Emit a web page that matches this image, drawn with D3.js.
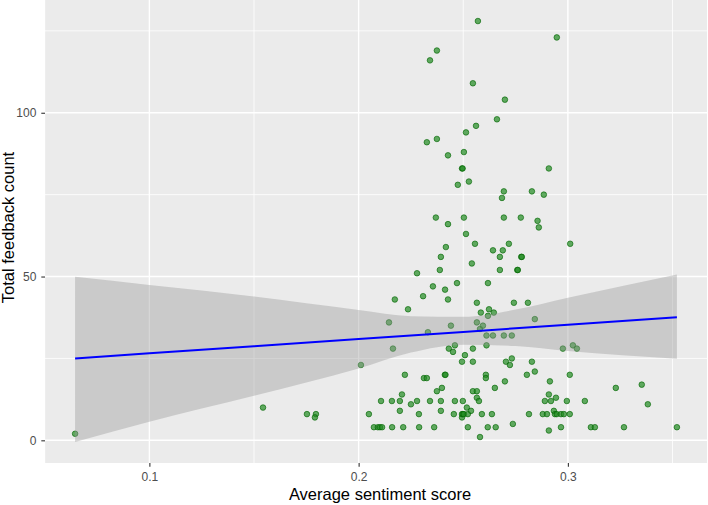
<!DOCTYPE html>
<html>
<head>
    <meta charset="utf-8">
    <script src="https://cdn.jsdelivr.net/npm/d3@7"></script>
    <style>
        body { margin: 0; background: #ffffff; }
        svg text { font-family: 'Liberation Sans', Arial, sans-serif; }
    </style>
</head>
<body>
<svg id="chart" width="708" height="505"></svg>
<script>
    // points: average sentiment score vs total feedback count
    var sentiment = [
        0.0645, 0.1543, 0.1753, 0.1796, 0.1791, 0.2011, 0.2049, 0.2073, 0.2092, 0.2102,
        0.2112, 0.2107, 0.2145, 0.2159, 0.2164, 0.2173, 0.2197, 0.2197, 0.2207, 0.2221,
        0.2160, 0.2213, 0.2236, 0.2250, 0.2279, 0.2279, 0.2288, 0.2289, 0.2308, 0.2312,
        0.2326, 0.2326, 0.2331, 0.2341, 0.2341, 0.2355, 0.2361, 0.2369, 0.2374, 0.2374,
        0.2374, 0.2388, 0.2393, 0.2393, 0.2393, 0.2398, 0.2412, 0.2415, 0.2413, 0.2417,
        0.2427, 0.2427, 0.2427, 0.2431, 0.2441, 0.2451, 0.2455, 0.2460, 0.2460, 0.2470,
        0.2474, 0.2494, 0.2497, 0.2494, 0.2494, 0.2494, 0.2498, 0.2498, 0.2503, 0.2503,
        0.2503, 0.2508, 0.2513, 0.2513, 0.2517, 0.2522, 0.2522, 0.2527, 0.2537, 0.2541,
        0.2546, 0.2546, 0.2546, 0.2546, 0.2556, 0.2561, 0.2565, 0.2565, 0.2565, 0.2565,
        0.2570, 0.2575, 0.2580, 0.2580, 0.2584, 0.2589, 0.2594, 0.2608, 0.2608, 0.2611,
        0.2611, 0.2618, 0.2618, 0.2617, 0.2623, 0.2637, 0.2642, 0.2642, 0.2646, 0.2651,
        0.2655, 0.2661, 0.2675, 0.2675, 0.2685, 0.2689, 0.2694, 0.2694, 0.2694, 0.2699,
        0.2699, 0.2704, 0.2718, 0.2723, 0.2732, 0.2732, 0.2737, 0.2742, 0.2758, 0.2761,
        0.2775, 0.2777, 0.2780, 0.2804, 0.2809, 0.2814, 0.2828, 0.2828, 0.2842, 0.2842,
        0.2855, 0.2861, 0.2880, 0.2885, 0.2890, 0.2900, 0.2909, 0.2909, 0.2909, 0.2914,
        0.2919, 0.2933, 0.2938, 0.2943, 0.2947, 0.2947, 0.2967, 0.2967, 0.2976, 0.2981,
        0.2995, 0.3009, 0.3009, 0.3011, 0.3024, 0.3043, 0.3081, 0.3110, 0.3129, 0.3229,
        0.3268, 0.3353, 0.3382, 0.3521
    ];
    var feedback = [
        2, 10, 8, 8, 7, 23, 8, 4, 4, 4,
        4, 12, 36, 12, 28, 43, 12, 9, 14, 20,
        4, 4, 40, 11, 51, 12, 8, 4, 44, 19,
        19, 91, 33, 116, 12, 47, 4, 68, 119, 92,
        15, 52, 56, 12, 9, 16, 20, 20, 46, 59,
        87, 66, 43, 28, 35, 27, 8, 29, 12, 48,
        78, 83, 83, 24, 7, 8, 8, 12, 88, 68,
        8, 26, 94, 63, 10, 8, 4, 79, 9, 54,
        109, 28, 24, 15, 60, 96, 42, 36, 15, 13,
        128, 12, 34, 1, 39, 8, 35, 20, 19, 32,
        29, 48, 38, 4, 40, 8, 58, 32, 39, 16,
        4, 98, 56, 52, 74, 58, 76, 68, 32, 104,
        18, 24, 60, 23, 32, 25, 5, 42, 52, 52,
        68, 56, 56, 20, 42, 8, 76, 24, 37, 21,
        67, 65, 8, 75, 12, 8, 83, 14, 3, 18,
        12, 9, 8, 13, 123, 8, 8, 4, 28, 8,
        12, 20, 8, 60, 29, 28, 12, 4, 4, 16,
        4, 17, 11, 4
    ];

    // linear smooth and its confidence band
    var smoothX   = [0.0645, 0.1, 0.15, 0.2, 0.225, 0.25, 0.275, 0.3, 0.3521];
    var smoothFit = [25.0, 26.6, 28.7, 30.9, 32.0, 33.1, 34.2, 35.3, 37.6];
    var smoothLo  = [-0.5, 5.7, 13.6, 21.9, 26.8, 29.2, 28.8, 27.3, 24.9];
    var smoothHi  = [49.9, 47.4, 43.9, 39.8, 37.9, 37.7, 39.9, 43.5, 50.6];

    var xTicks = [0.1, 0.2, 0.3];
    var xMinor = [0.05, 0.15, 0.25, 0.35];
    var yTicks = [0, 50, 100];
    var yMinor = [25, 75, 125];

    var points = sentiment.map(function (d, i) { return { x: d, y: feedback[i] }; });
    var band = smoothX.map(function (d, i) {
        return { x: d, fit: smoothFit[i], lo: smoothLo[i], hi: smoothHi[i] };
    });

    var svg = d3.select("#chart");
    var panel = { left: 45, right: 707, top: 0, bottom: 463 };

    function expand(ext) {
        var pad = (ext[1] - ext[0]) * 0.05;
        return [ext[0] - pad, ext[1] + pad];
    }
    var xExt = d3.extent(sentiment.concat(smoothX));
    var yExt = [d3.min(feedback.concat(smoothLo)), d3.max(feedback.concat(smoothHi))];

    var x = d3.scaleLinear().domain(expand(xExt)).range([panel.left, panel.right]);
    var y = d3.scaleLinear().domain(expand(yExt)).range([panel.bottom, panel.top]);

    svg.append("defs").append("clipPath").attr("id", "clip")
        .append("rect").attr("x", panel.left).attr("y", panel.top)
        .attr("width", panel.right - panel.left).attr("height", panel.bottom - panel.top);

    svg.append("rect")
        .attr("x", panel.left).attr("y", panel.top)
        .attr("width", panel.right - panel.left).attr("height", panel.bottom - panel.top)
        .attr("fill", "#ebebeb");

    var grid = svg.append("g").attr("clip-path", "url(#clip)");
    grid.selectAll(".xminor").data(xMinor).enter().append("line")
        .attr("x1", function (d) { return x(d); }).attr("x2", function (d) { return x(d); })
        .attr("y1", panel.top).attr("y2", panel.bottom)
        .attr("stroke", "#ffffff").attr("stroke-width", 0.8);
    grid.selectAll(".yminor").data(yMinor).enter().append("line")
        .attr("x1", panel.left).attr("x2", panel.right)
        .attr("y1", function (d) { return y(d); }).attr("y2", function (d) { return y(d); })
        .attr("stroke", "#ffffff").attr("stroke-width", 0.8);
    grid.selectAll(".xmajor").data(xTicks).enter().append("line")
        .attr("x1", function (d) { return x(d); }).attr("x2", function (d) { return x(d); })
        .attr("y1", panel.top).attr("y2", panel.bottom)
        .attr("stroke", "#ffffff").attr("stroke-width", 1.4);
    grid.selectAll(".ymajor").data(yTicks).enter().append("line")
        .attr("x1", panel.left).attr("x2", panel.right)
        .attr("y1", function (d) { return y(d); }).attr("y2", function (d) { return y(d); })
        .attr("stroke", "#ffffff").attr("stroke-width", 1.4);

    var plot = svg.append("g").attr("clip-path", "url(#clip)");

    plot.selectAll("circle").data(points).enter().append("circle")
        .attr("cx", function (d) { return x(d.x); })
        .attr("cy", function (d) { return y(d.y); })
        .attr("r", 2.8)
        .attr("fill", "#228b22")
        .attr("fill-opacity", 0.7)
        .attr("stroke", "#006400")
        .attr("stroke-opacity", 0.7)
        .attr("stroke-width", 0.9);

    plot.append("path")
        .datum(band)
        .attr("fill", "#999999")
        .attr("fill-opacity", 0.4)
        .attr("d", d3.area()
            .x(function (d) { return x(d.x); })
            .y0(function (d) { return y(d.lo); })
            .y1(function (d) { return y(d.hi); })
            .curve(d3.curveMonotoneX));

    plot.append("path")
        .datum(band)
        .attr("fill", "none")
        .attr("stroke", "#0000ff")
        .attr("stroke-width", 2)
        .attr("d", d3.line()
            .x(function (d) { return x(d.x); })
            .y(function (d) { return y(d.fit); }));

    // axes
    var xAxis = svg.append("g")
        .attr("transform", "translate(0," + panel.bottom + ")")
        .call(d3.axisBottom(x).tickValues(xTicks).tickSize(3.7).tickPadding(5.5).tickFormat(d3.format(".1f")));
    var yAxis = svg.append("g")
        .attr("transform", "translate(" + panel.left + ",0)")
        .call(d3.axisLeft(y).tickValues(yTicks).tickSize(3.7).tickPadding(5).tickFormat(d3.format("d")));

    [xAxis, yAxis].forEach(function (a) {
        a.select(".domain").remove();
        a.selectAll("line").attr("stroke", "#333333").attr("stroke-width", 1.1);
        a.selectAll("text")
            .attr("fill", "#4d4d4d")
            .style("font-size", "12px");
    });

    svg.append("text")
        .attr("x", (panel.left + panel.right) / 2 + 4)
        .attr("y", 500)
        .attr("text-anchor", "middle")
        .attr("fill", "#000000")
        .style("font-size", "16.5px")
        .text("Average sentiment score");

    svg.append("text")
        .attr("transform", "translate(13.5," + ((panel.top + panel.bottom) / 2 - 4) + ") rotate(-90)")
        .attr("text-anchor", "middle")
        .attr("fill", "#000000")
        .style("font-size", "16.5px")
        .text("Total feedback count");
</script>
</body>
</html>
